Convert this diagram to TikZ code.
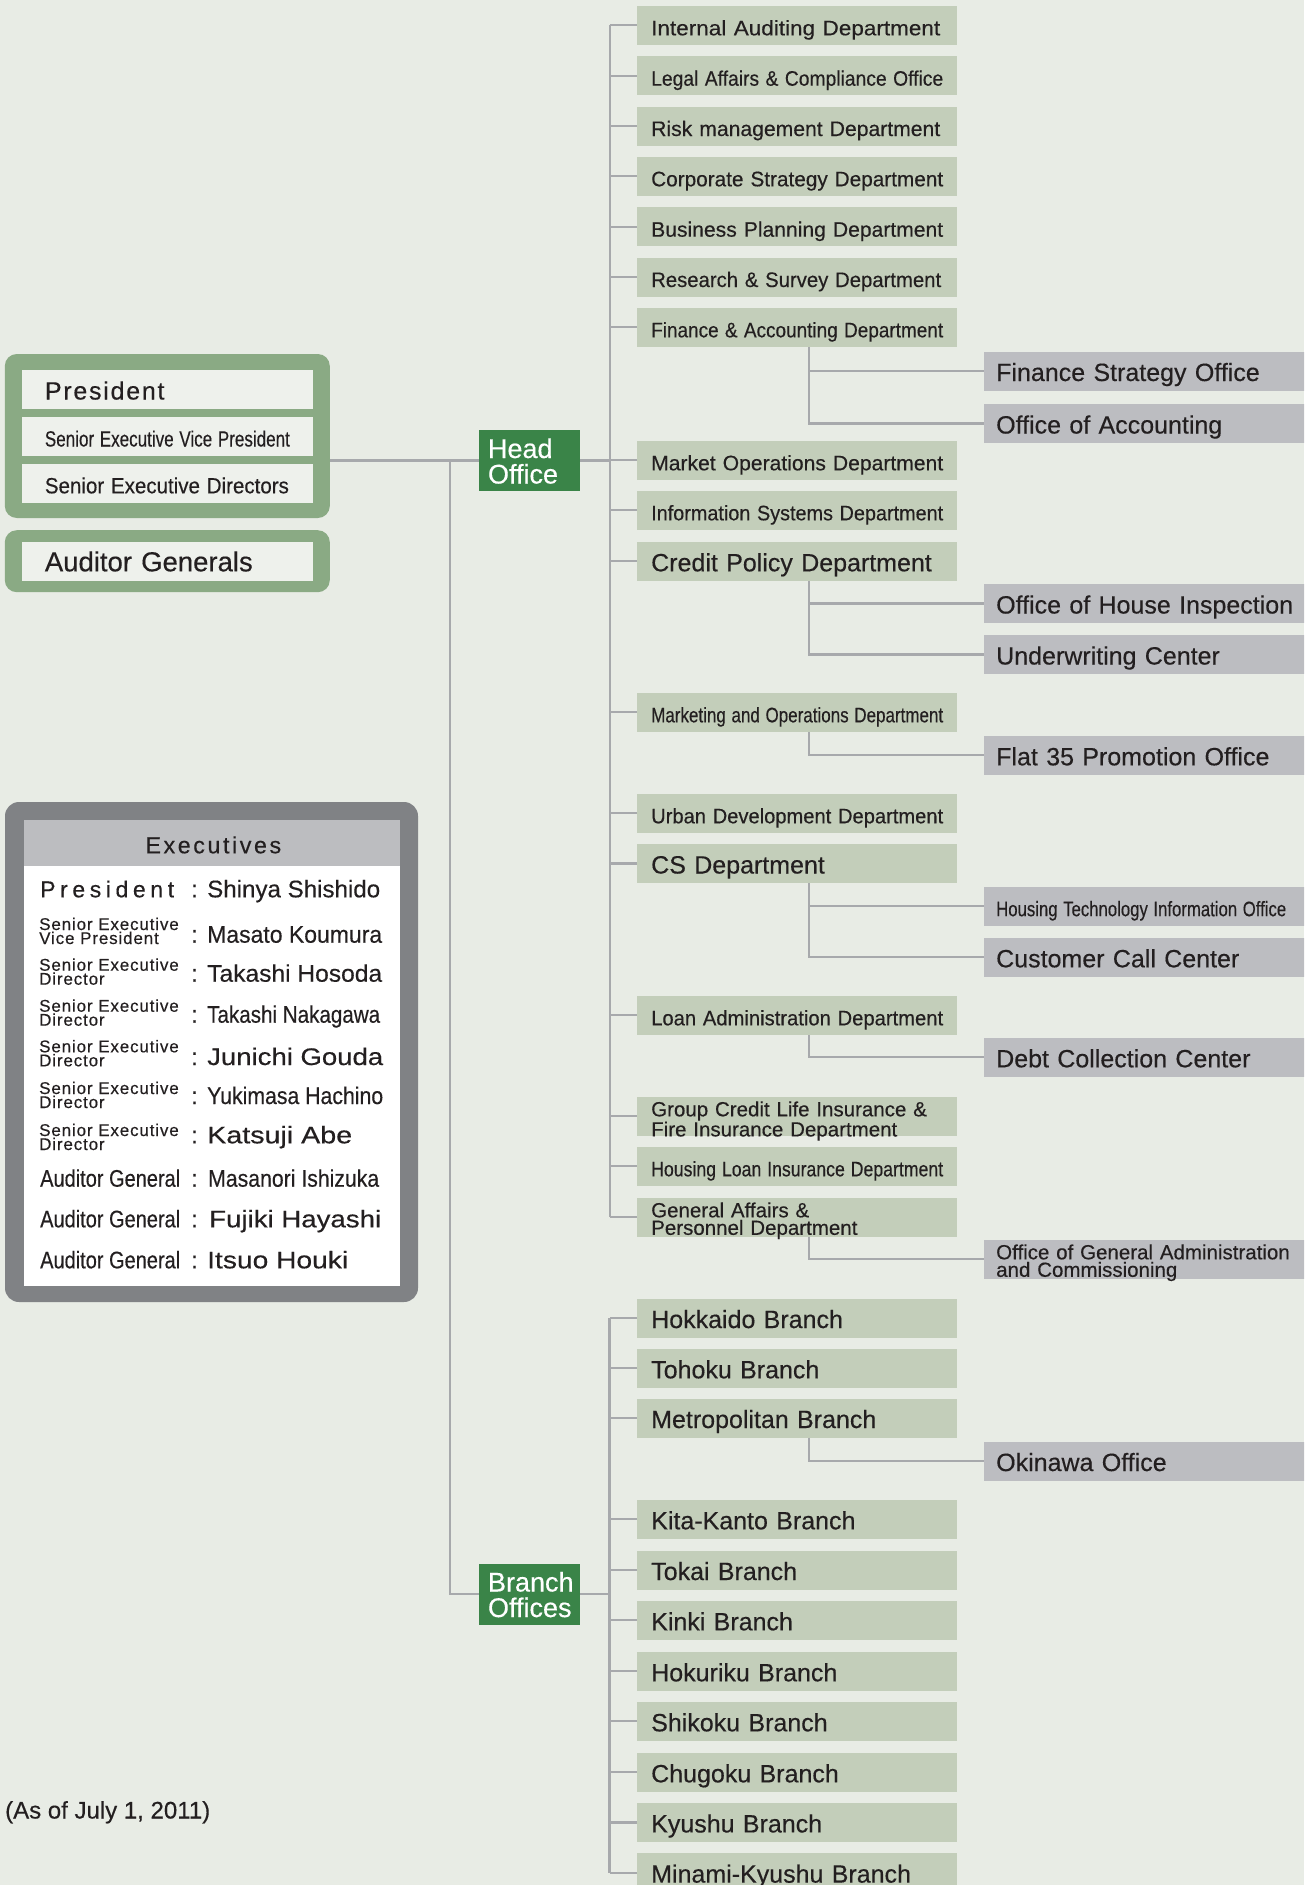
\documentclass[tikz,border=0pt]{standalone}
\usepackage{fontspec}
\setmainfont{Liberation Sans}[FakeBold=0.35]
\usepackage{graphicx}
\usetikzlibrary{positioning,calc}

\definecolor{bgcol}{HTML}{E8ECE5}
\definecolor{deptgreen}{HTML}{C3CEBA}
\definecolor{subgray}{HTML}{BCBDC1}
\definecolor{linegray}{HTML}{A7A9AC}
\definecolor{hubgreen}{HTML}{3A8448}
\definecolor{framegreen}{HTML}{8AAA84}
\definecolor{framegray}{HTML}{808285}
\definecolor{headgray}{HTML}{BCBDC0}
\definecolor{inkcol}{HTML}{231F20}
\definecolor{paleinner}{HTML}{EEF1EC}

\newcommand{\fsreg}{\fontsize{25}{30}\selectfont}
\newcommand{\fssm}{\fontsize{20.5}{17.5}\selectfont}
\newcommand{\cw}[2]{\resizebox{#1}{\height}{#2}}
\newcommand{\ls}[2]{{\addfontfeature{LetterSpace=#1}#2}}

\begin{document}
\begin{tikzpicture}[x=1pt,y=-1pt,
  box/.style={rectangle,anchor=west,minimum height=39pt,inner ysep=0pt,align=left,
    text height=22pt,text depth=2pt,text=inkcol,font=\fsreg},
  dept/.style={box,fill=deptgreen,minimum width=320pt,text width=292pt,inner xsep=14pt},
  subo/.style={box,fill=subgray,minimum width=340pt,text width=316pt,inner xsep=12pt},
  lead/.style={box,anchor=center,fill=paleinner,minimum width=291pt,text width=245pt,inner xsep=23pt},
  two/.style={font=\fssm,text height=17pt,text depth=17pt},
  cnd/.style={font=\fontsize{21}{25}\selectfont},
  hub/.style={rectangle,fill=hubgreen,text=white,minimum width=101pt,minimum height=61pt,
    text width=83pt,inner xsep=9pt,inner ysep=0pt,align=left,
    font=\fontsize{27}{25.5}\selectfont,text height=22pt,text depth=27pt},
  frame/.style={fill=framegreen,rounded corners=12pt,minimum width=325pt,inner sep=0pt},
  exlab/.style={anchor=base west,inner sep=0pt,text=inkcol,font=\fontsize{24}{28}\selectfont},
  exsmall/.style={anchor=base west,inner sep=0pt,text=inkcol,text width=150pt,align=left,
    font=\fontsize{17}{14}\selectfont\addfontfeature{LetterSpace=5}},
  exc/.style={anchor=base,inner sep=0pt,text=inkcol,font=\fontsize{24}{28}\selectfont},
  link/.style={draw=linegray,line width=2.2pt}]

\useasboundingbox (0,0) rectangle (1304,1885);
\clip (0,0) rectangle (1304,1885);
\fill[bgcol] (0,0) rectangle (1304,1885);

% board and auditors
\node[frame,minimum height=164pt] (board) at (167.3,436) {};
\node[lead] (p1) at (167.4,389.5) {\ls{7}{President}};
\node[lead,font=\fontsize{22}{26}\selectfont] (p2) at (167.4,436.5) {\cw{245pt}{Senior Executive Vice President}};
\node[lead,font=\fontsize{22}{26}\selectfont] (p3) at (167.4,483.3) {\cw{244pt}{Senior Executive Directors}};
\node[frame,minimum height=62pt] (agframe) at (167.3,561.2) {};
\node[lead,font=\fontsize{27.5}{30}\selectfont] (ag) at (167.4,561.3) {Auditor Generals};

% head office
\node[hub] (ho) at (529.5,460.5) {Head\\Office};
\coordinate (ms) at (450,0);
\coordinate (hs) at (610,0);
\coordinate (sx) at (809,0);

\node[dept,cnd] (d1) at (637,25.3) {\cw{289pt}{Internal Auditing Department}};
\node[dept,cnd] (d2) at (637,75.7) {\cw{292pt}{Legal Affairs \& Compliance Office}};
\node[dept,cnd] (d3) at (637,126) {\cw{289pt}{Risk management Department}};
\node[dept,cnd] (d4) at (637,176.3) {\cw{292pt}{Corporate Strategy Department}};
\node[dept,cnd] (d5) at (637,226.7) {\cw{292pt}{Business Planning Department}};
\node[dept,cnd] (d6) at (637,277) {\cw{290pt}{Research \& Survey Department}};
\node[dept,cnd] (d7) at (637,327.3) {\cw{292pt}{Finance \& Accounting Department}};
\node[subo] (s1) at (984,371) {Finance Strategy Office};
\node[subo] (s2) at (984,423.5) {Office of Accounting};
\node[dept,cnd] (d8) at (637,460.3) {\cw{292pt}{Market Operations Department}};
\node[dept,cnd] (d9) at (637,510.3) {\cw{292pt}{Information Systems Department}};
\node[dept] (d10) at (637,561.3) {Credit Policy Department};
\node[subo] (s3) at (984,603.5) {Office of House Inspection};
\node[subo] (s4) at (984,654.5) {Underwriting Center};
\node[dept,cnd] (d11) at (637,712.3) {\cw{292pt}{Marketing and Operations Department}};
\node[subo] (s5) at (984,755.3) {Flat 35 Promotion Office};
\node[dept,cnd] (d12) at (637,813.3) {\cw{292pt}{Urban Development Department}};
\node[dept] (d13) at (637,863.5) {CS Department};
\node[subo,cnd] (s6) at (984,906.2) {\cw{290pt}{Housing Technology Information Office}};
\node[subo] (s7) at (984,957.3) {Customer Call Center};
\node[dept,cnd] (d14) at (637,1015.3) {\cw{292pt}{Loan Administration Department}};
\node[subo] (s8) at (984,1057.3) {Debt Collection Center};
\node[dept,two] (d15) at (637,1116.3) {Group Credit Life Insurance \&\\Fire Insurance Department};
\node[dept,cnd] (d16) at (637,1166.3) {\cw{292pt}{Housing Loan Insurance Department}};
\node[dept,two] (d17) at (637,1217.3) {General Affairs \&\\Personnel Department};
\node[subo,two] (s9) at (984,1259.3) {Office of General Administration\\and Commissioning};

% branch offices
\node[hub] (bo) at (529.5,1594) {Branch\\Offices};
\coordinate (bs) at (609.5,0);

\node[dept] (b1) at (637,1318) {Hokkaido Branch};
\node[dept] (b2) at (637,1368.3) {Tohoku Branch};
\node[dept] (b3) at (637,1418) {Metropolitan Branch};
\node[subo] (s10) at (984,1461) {Okinawa Office};
\node[dept] (b4) at (637,1519.3) {Kita-Kanto Branch};
\node[dept] (b5) at (637,1570) {Tokai Branch};
\node[dept] (b6) at (637,1620.3) {Kinki Branch};
\node[dept] (b7) at (637,1671.3) {Hokuriku Branch};
\node[dept] (b8) at (637,1721.3) {Shikoku Branch};
\node[dept] (b9) at (637,1772.3) {Chugoku Branch};
\node[dept] (b10) at (637,1822.4) {Kyushu Branch};
\node[dept] (b11) at (637,1872.6) {Minami-Kyushu Branch};

% connectors
\draw[link] (board.east |- ho.west) -- (ho.west);
\draw[link] (ho.west -| ms) |- (bo.west);
\draw[link] (ho.east) -- (ho.east -| hs);
\draw[link] (d1.west -| hs) -- (d17.west -| hs);
\draw[link] (d1.west) -- (d1.west -| hs);
\draw[link] (d2.west) -- (d2.west -| hs);
\draw[link] (d3.west) -- (d3.west -| hs);
\draw[link] (d4.west) -- (d4.west -| hs);
\draw[link] (d5.west) -- (d5.west -| hs);
\draw[link] (d6.west) -- (d6.west -| hs);
\draw[link] (d7.west) -- (d7.west -| hs);
\draw[link] (d8.west) -- (d8.west -| hs);
\draw[link] (d9.west) -- (d9.west -| hs);
\draw[link] (d10.west) -- (d10.west -| hs);
\draw[link] (d11.west) -- (d11.west -| hs);
\draw[link] (d12.west) -- (d12.west -| hs);
\draw[link] (d13.west) -- (d13.west -| hs);
\draw[link] (d14.west) -- (d14.west -| hs);
\draw[link] (d15.west) -- (d15.west -| hs);
\draw[link] (d16.west) -- (d16.west -| hs);
\draw[link] (d17.west) -- (d17.west -| hs);

\draw[link] (d7.south -| sx) |- (s1.west);
\draw[link] (d7.south -| sx) |- (s2.west);
\draw[link] (d10.south -| sx) |- (s3.west);
\draw[link] (d10.south -| sx) |- (s4.west);
\draw[link] (d11.south -| sx) |- (s5.west);
\draw[link] (d13.south -| sx) |- (s6.west);
\draw[link] (d13.south -| sx) |- (s7.west);
\draw[link] (d14.south -| sx) |- (s8.west);
\draw[link] (d17.south -| sx) |- (s9.west);

\draw[link] (bo.east) -- (bo.east -| bs);
\draw[link] (b1.west -| bs) -- (b11.west -| bs);
\draw[link] (b1.west) -- (b1.west -| bs);
\draw[link] (b2.west) -- (b2.west -| bs);
\draw[link] (b3.west) -- (b3.west -| bs);
\draw[link] (b4.west) -- (b4.west -| bs);
\draw[link] (b5.west) -- (b5.west -| bs);
\draw[link] (b6.west) -- (b6.west -| bs);
\draw[link] (b7.west) -- (b7.west -| bs);
\draw[link] (b8.west) -- (b8.west -| bs);
\draw[link] (b9.west) -- (b9.west -| bs);
\draw[link] (b10.west) -- (b10.west -| bs);
\draw[link] (b11.west) -- (b11.west -| bs);
\draw[link] (b3.south -| sx) |- (s10.west);

% executives panel
\fill[framegray,rounded corners=14pt] (5,802) rectangle (418,1302);
\fill[headgray] (24,820) rectangle (400,866);
\fill[white] (24,866) rectangle (400,1286);
\node[anchor=base,inner sep=0pt,text=inkcol,font=\fontsize{23.3}{28}\selectfont] (exhd) at (213.3,853.3) {\ls{11}{Executives}};

\node[exlab,font=\fontsize{23}{28}\selectfont] (e1) at (40,897.3) {\ls{20}{President}};
\node[exsmall] (e2) at (39,930) {Senior Executive\\Vice President};
\node[exsmall] (e3) at (39,970.7) {Senior Executive\\Director};
\node[exsmall] (e4) at (39,1011.7) {Senior Executive\\Director};
\node[exsmall] (e5) at (39,1052.3) {Senior Executive\\Director};
\node[exsmall] (e6) at (39,1094) {Senior Executive\\Director};
\node[exsmall] (e7) at (39,1136) {Senior Executive\\Director};
\node[exlab] (e8) at (40,1186.7) {\cw{140pt}{Auditor General}};
\node[exlab] (e9) at (40,1227.3) {\cw{140pt}{Auditor General}};
\node[exlab] (e10) at (40,1268.3) {\cw{140pt}{Auditor General}};

\node[exc] (c1) at (194.5,897.3) {:};
\node[exc] (c2) at (194.5,942.7) {:};
\node[exc] (c3) at (194.5,981.7) {:};
\node[exc] (c4) at (194.5,1022.7) {:};
\node[exc] (c5) at (194.5,1065) {:};
\node[exc] (c6) at (194.5,1104) {:};
\node[exc] (c7) at (194.5,1143.3) {:};
\node[exc] (c8) at (194.5,1186.7) {:};
\node[exc] (c9) at (194.5,1227.3) {:};
\node[exc] (c10) at (194.5,1268.3) {:};

\node[exlab] (n1) at (207,897.3) {\cw{173pt}{Shinya Shishido}};
\node[exlab] (n2) at (207,942.7) {\cw{175pt}{Masato Koumura}};
\node[exlab] (n3) at (207,981.7) {\cw{175pt}{Takashi Hosoda}};
\node[exlab] (n4) at (207,1022.7) {\cw{173pt}{Takashi Nakagawa}};
\node[exlab] (n5) at (207,1065) {\cw{176pt}{Junichi Gouda}};
\node[exlab] (n6) at (207,1104) {\cw{176pt}{Yukimasa Hachino}};
\node[exlab] (n7) at (207,1143.3) {\cw{145pt}{Katsuji Abe}};
\node[exlab] (n8) at (208,1186.7) {\cw{171pt}{Masanori Ishizuka}};
\node[exlab] (n9) at (209,1227.3) {\cw{172pt}{Fujiki Hayashi}};
\node[exlab] (n10) at (207,1268.3) {\cw{141pt}{Itsuo Houki}};

\node[exlab] (asof) at (5,1818.5) {(As of July 1, 2011)};
\end{tikzpicture}
\end{document}
